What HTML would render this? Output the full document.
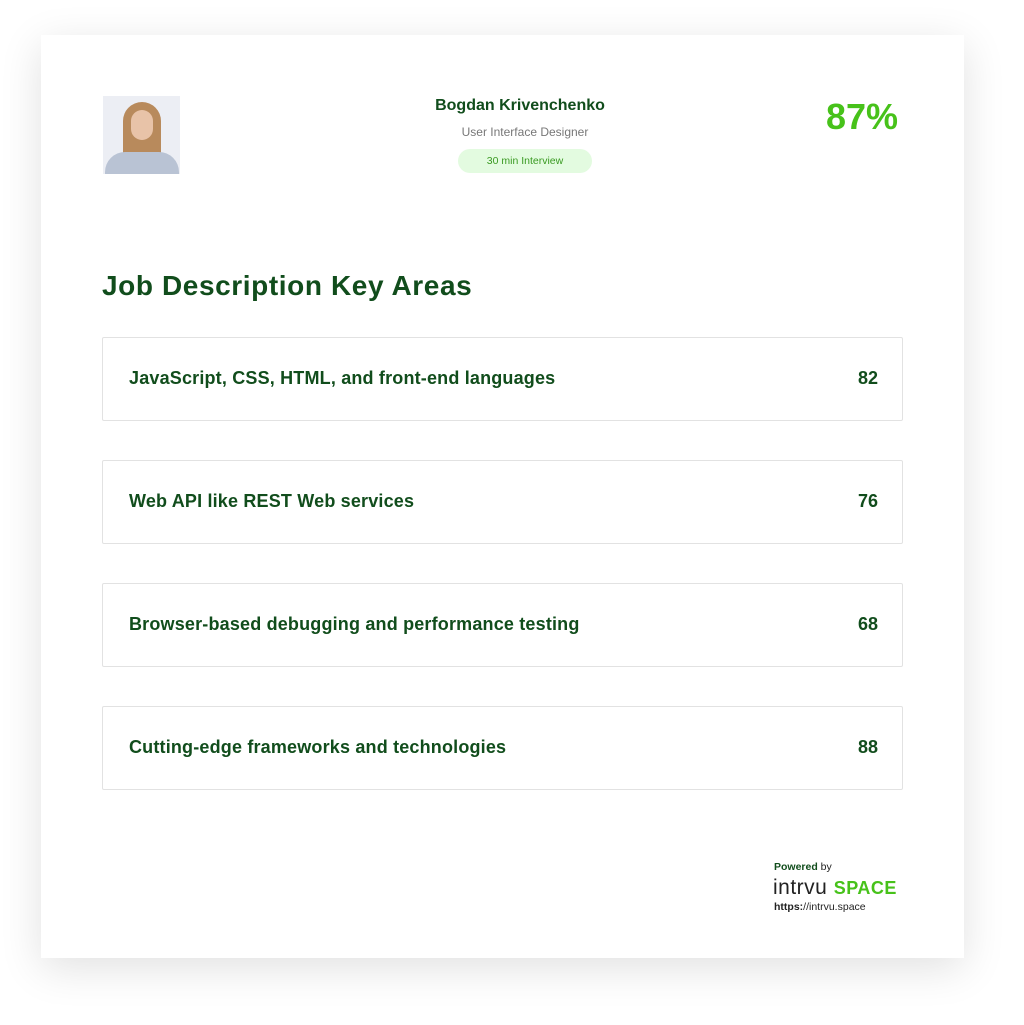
<!DOCTYPE html>
<html><head><meta charset="utf-8"><style>
body{margin:0;width:1024px;height:1025px;background:#fff;position:relative;font-family:"Liberation Sans",sans-serif;overflow:hidden}
.card{position:absolute;left:41px;top:35px;width:923px;height:923px;background:#fff;box-shadow:0 10px 40px rgba(0,0,0,0.12)}
.abs{position:absolute}
.row{position:absolute;left:102px;width:799px;height:82px;border:1px solid #e2e2e2;border-radius:2px}
.row .t{position:absolute;left:26px;top:30px;font-size:18px;font-weight:bold;color:#114d1c;letter-spacing:0.18px}
.row .n{position:absolute;right:24px;top:30px;font-size:18px;font-weight:bold;color:#114d1c}
</style></head><body>
<div class="card"></div>
<div class="abs" style="left:103px;top:96px;width:77px;height:78px;background:#eceef4;overflow:hidden">
<div class="abs" style="left:20px;top:6px;width:38px;height:60px;background:#b88a5c;border-radius:19px 19px 6px 6px"></div>
<div class="abs" style="left:28px;top:14px;width:22px;height:30px;background:#e8c3a8;border-radius:11px"></div>
<div class="abs" style="left:2px;top:56px;width:74px;height:30px;background:#b9c3d4;border-radius:20px 20px 0 0"></div>
</div>
<div class="abs" style="left:375px;top:97px;width:290px;text-align:center;font-size:16px;font-weight:bold;color:#114d1c">Bogdan Krivenchenko</div>
<div class="abs" style="left:380px;top:125px;width:290px;text-align:center;font-size:12px;color:#777">User Interface Designer</div>
<div class="abs" style="left:458px;top:149px;width:134px;height:24px;border-radius:12px;background:#e3fbe0;text-align:center;line-height:24px;font-size:10.5px;color:#3a9a22">30 min Interview</div>
<div class="abs" style="left:800px;top:96px;width:98px;text-align:right;font-size:36px;font-weight:bold;color:#47c21a">87%</div>
<div class="abs" style="left:102px;top:270px;font-size:28px;font-weight:bold;color:#114d1c;letter-spacing:0.6px">Job Description Key Areas</div>
<div class="row" style="top:337px"><span class="t">JavaScript, CSS, HTML, and front-end languages</span><span class="n">82</span></div>
<div class="row" style="top:460px"><span class="t">Web API like REST Web services</span><span class="n">76</span></div>
<div class="row" style="top:583px"><span class="t">Browser-based debugging and performance testing</span><span class="n">68</span></div>
<div class="row" style="top:706px"><span class="t">Cutting-edge frameworks and technologies</span><span class="n">88</span></div>
<div class="abs" style="left:774px;top:861px;font-size:10.5px;color:#222"><b style="color:#114d1c">Powered</b> by</div>
<div class="abs" style="left:773px;top:876px;font-size:21px;color:#222;letter-spacing:0.5px">intrvu <b style="color:#47c21a;font-size:18px">SPACE</b></div>
<div class="abs" style="left:774px;top:901px;font-size:10.5px;color:#222"><b>https:</b>//intrvu.space</div>
</body></html>
